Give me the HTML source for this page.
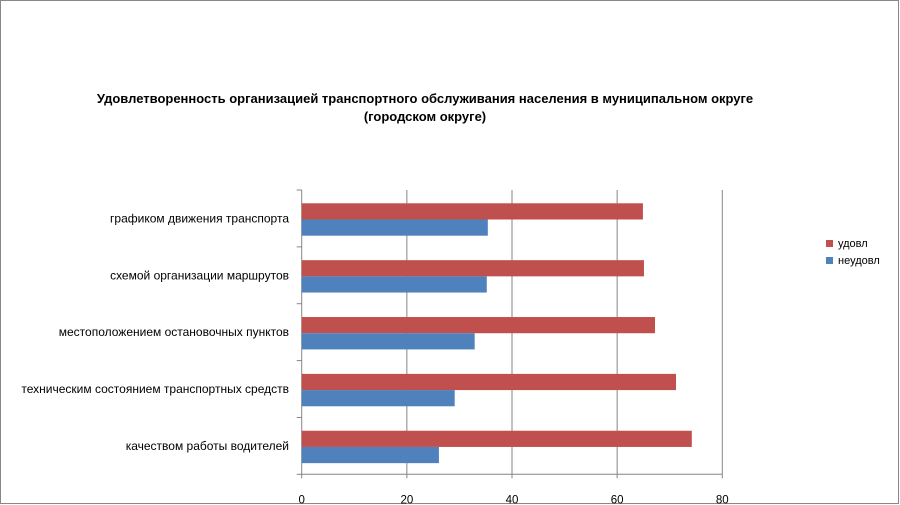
<!DOCTYPE html>
<html><head><meta charset="utf-8"><style>
body{margin:0;background:#fff}
svg{display:block;font-family:"Liberation Sans",sans-serif}
</style></head><body>
<svg id="c" width="900" height="505">
<rect x="0.5" y="0.5" width="898" height="503" fill="#fff" stroke="#888"/>
<text x="425" y="103" text-anchor="middle" font-size="13" font-weight="bold">Удовлетворенность организацией транспортного обслуживания населения в муниципальном округе</text>
<text x="425" y="121" text-anchor="middle" font-size="13" font-weight="bold">(городском округе)</text>
<g id="plot"></g>
<g>
<rect x="826" y="240" width="7" height="7" fill="#c0504d"/>
<text x="838" y="247" font-size="11">удовл</text>
<rect x="826" y="257" width="7" height="7" fill="#4f81bd"/>
<text x="838" y="264" font-size="11">неудовл</text>
</g>
</svg>
<script>
const categories=["графиком движения транспорта","схемой организации маршрутов","местоположением остановочных пунктов","техническим состоянием транспортных средств","качеством работы водителей"];
const udovl=[64.9,65.1,67.2,71.2,74.2];
const neudovl=[35.4,35.2,32.9,29.1,26.1];
const ticks=[0,20,40,60,80];
const X0=301.7,X1=722.3,Y0=190,Y1=474.3,MAX=80;
const xs=v=>X0+(X1-X0)*v/MAX;
const ch=(Y1-Y0)/categories.length;
const g=document.getElementById('plot');
const NS="http://www.w3.org/2000/svg";
function mk(t,a){const e=document.createElementNS(NS,t);for(const k in a)e.setAttribute(k,a[k]);g.appendChild(e);return e;}
ticks.forEach((t,i)=>{
 const x=xs(t);
 if(i>0){const l=mk('line',{x1:x,y1:Y0,x2:x,y2:Y1,stroke:'#868686'});
 
 }
 const tk=mk('line',{x1:x,y1:Y1,x2:x,y2:Y1+4,stroke:'#868686'});
 
 
 const tx=mk('text',{x:x,y:Y1+29,'text-anchor':'middle','font-size':11.5});
 tx.textContent=t;
 
 
});
const ax=mk('line',{x1:X0,y1:Y0,x2:X0,y2:Y1,stroke:'#868686'});


const bx=mk('line',{x1:X0,y1:Y1,x2:X1,y2:Y1,stroke:'#868686'});


for(let i=0;i<=categories.length;i++){
 const y=Y0+ch*i;
 const t=mk('line',{x1:X0-5,y1:y,x2:X0,y2:y,stroke:'#868686'});
 
 
}
categories.forEach((c,i)=>{
 const top=Y0+ch*i;
 const r=mk('rect',{x:X0,y:top+13.3,width:xs(udovl[i])-X0,height:16.2,fill:'#c0504d'});
 
 
 const b=mk('rect',{x:X0,y:top+29.5,width:xs(neudovl[i])-X0,height:16.2,fill:'#4f81bd'});
 
 
 const l=mk('text',{x:289,y:top+ch/2+4,'text-anchor':'end','font-size':12});
 l.textContent=c;
 
 
});
</script>
</body></html>
